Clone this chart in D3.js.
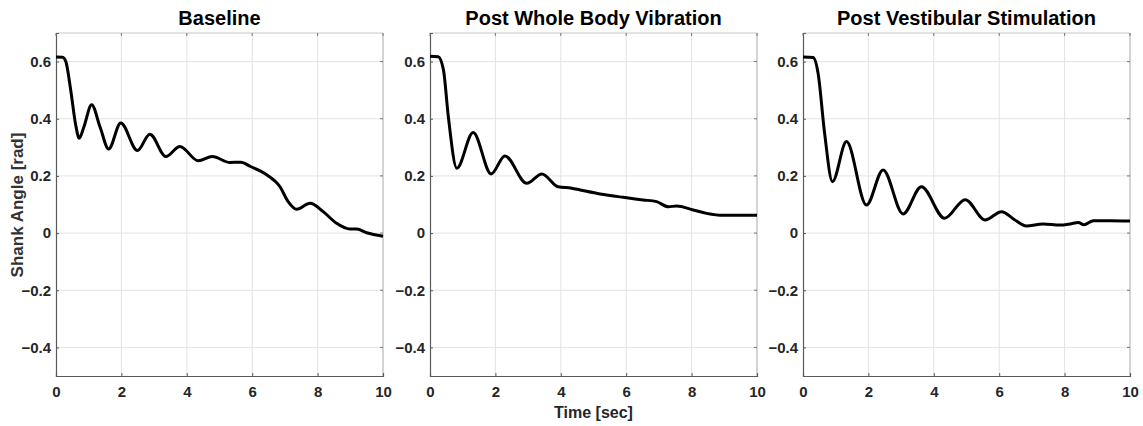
<!DOCTYPE html>
<html>
<head>
<meta charset="utf-8">
<script src="https://cdn.jsdelivr.net/npm/d3@7"></script>
<style>
  body { margin: 0; background: #fff; }
  svg text { font-family: "Liberation Sans", Arial, sans-serif; font-weight: bold; }
</style>
</head>
<body>
<div class="viz"></div>
<script>
const width = 1143;
const height = 426;

// panel titles
const titles = ["Baseline", "Post Whole Body Vibration", "Post Vestibular Stimulation"];

// ticks
const xTicks = [0, 2, 4, 6, 8, 10];
const yTicks = [0.6, 0.4, 0.2, 0, -0.2, -0.4];

// Baseline trace (time in sec, shank angle in rad)
const baselineT = [0, 0.2, 0.3, 0.45, 0.6, 0.71, 0.85, 1.09, 1.35, 1.61, 1.98, 2.49, 2.87, 3.36, 3.79, 4.35, 4.78, 5.32, 5.65, 5.95, 6.44, 6.85, 7.10, 7.36, 7.77, 8.17, 8.58, 8.99, 9.20, 9.50, 10];
const baselineV = [0.616, 0.615, 0.60, 0.50, 0.38, 0.332, 0.37, 0.449, 0.37, 0.294, 0.385, 0.289, 0.346, 0.268, 0.303, 0.253, 0.268, 0.247, 0.248, 0.233, 0.204, 0.162, 0.110, 0.083, 0.104, 0.075, 0.034, 0.014, 0.014, 0.001, -0.011];

// Post whole body vibration
const vibrationT = [0, 0.25, 0.41, 0.56, 0.82, 1.32, 1.87, 2.29, 2.96, 3.42, 3.92, 4.33, 4.59, 5.2, 5.91, 6.52, 6.93, 7.29, 7.54, 8.05, 8.46, 8.97, 10];
const vibrationV = [0.619, 0.617, 0.572, 0.408, 0.227, 0.352, 0.207, 0.270, 0.174, 0.207, 0.162, 0.157, 0.151, 0.137, 0.125, 0.116, 0.110, 0.092, 0.095, 0.081, 0.069, 0.062, 0.062];

// Post vestibular stimulation
const vestibularT = [0, 0.31, 0.46, 0.66, 0.90, 1.33, 1.94, 2.45, 3.06, 3.62, 4.33, 4.96, 5.57, 6.07, 6.48, 6.83, 7.34, 7.86, 8.17, 8.42, 8.59, 8.88, 9.39, 10];
const vestibularV = [0.616, 0.614, 0.560, 0.350, 0.180, 0.320, 0.098, 0.221, 0.067, 0.162, 0.052, 0.117, 0.046, 0.075, 0.046, 0.025, 0.032, 0.028, 0.032, 0.037, 0.029, 0.043, 0.043, 0.042];

const series = [
    [baselineT, baselineV],
    [vibrationT, vibrationV],
    [vestibularT, vestibularV]
];

// panel left edges
const panelLeft = [56, 430, 803];
const panelW = 327;
const plotTop = 33, plotBottom = 376;

const svg = d3.select(".viz")
    .append("svg")
    .attr("width", width)
    .attr("height", height);

const y = d3.scaleLinear().domain([-0.5, 0.7]).range([plotBottom, plotTop]);

series.forEach(([ts, vs], i) => {
    const x = d3.scaleLinear().domain([0, 10]).range([panelLeft[i], panelLeft[i] + panelW]);
    const g = svg.append("g");

    // grid
    g.selectAll(".gx").data(xTicks.slice(1, -1)).enter().append("line")
        .attr("x1", d => x(d)).attr("x2", d => x(d))
        .attr("y1", plotTop).attr("y2", plotBottom)
        .attr("stroke", "#e3e3e3").attr("stroke-width", 1);
    g.selectAll(".gy").data(yTicks).enter().append("line")
        .attr("x1", x(0)).attr("x2", x(10))
        .attr("y1", d => y(d)).attr("y2", d => y(d))
        .attr("stroke", "#e3e3e3").attr("stroke-width", 1);

    // box top/right (light)
    g.append("line").attr("x1", x(0)).attr("x2", x(10)).attr("y1", plotTop).attr("y2", plotTop)
        .attr("stroke", "#c8c8c8");
    g.append("line").attr("x1", x(10)).attr("x2", x(10)).attr("y1", plotTop).attr("y2", plotBottom)
        .attr("stroke", "#a8a8a8");

    // axes
    const xAxis = d3.axisBottom(x).tickValues(xTicks).tickSize(-3).tickPadding(10).tickFormat(d3.format("d"));
    const yAxis = d3.axisLeft(y).tickValues(yTicks).tickSize(-3).tickPadding(5)
        .tickFormat(d => d === 0 ? "0" : d3.format(".1f")(d));

    const ax = g.append("g").attr("transform", `translate(0,${plotBottom})`).call(xAxis);
    const ay = g.append("g").attr("transform", `translate(${x(0)},0)`).call(yAxis);
    [ax, ay].forEach(a => {
        a.select(".domain").attr("stroke", "#5a5a5a").attr("stroke-width", 1.2);
        a.selectAll(".tick line").attr("stroke", "#5a5a5a");
        a.selectAll("text").attr("fill", "#262626").style("font-size", "15px");
    });

    // top / right ticks
    g.selectAll(".tt").data(xTicks).enter().append("line")
        .attr("x1", d => x(d)).attr("x2", d => x(d))
        .attr("y1", plotTop).attr("y2", plotTop + 3).attr("stroke", "#777");
    g.selectAll(".tr").data(yTicks).enter().append("line")
        .attr("x1", x(10) - 3).attr("x2", x(10))
        .attr("y1", d => y(d)).attr("y2", d => y(d)).attr("stroke", "#777");

    // curve
    const pts = ts.map((t, k) => [t, vs[k]]);
    g.append("path")
        .datum(pts)
        .attr("fill", "none")
        .attr("stroke", "#000")
        .attr("stroke-width", 3)
        .attr("stroke-linejoin", "round")
        .attr("d", d3.line().x(d => x(d[0])).y(d => y(d[1])).curve(d3.curveMonotoneX));

    // title
    svg.append("text")
        .attr("x", x(5)).attr("y", 25)
        .attr("text-anchor", "middle")
        .style("font-size", "20px")
        .attr("fill", "#000")
        .text(titles[i]);
});

// axis labels
svg.append("text")
    .attr("transform", "translate(23,205) rotate(-90)")
    .attr("text-anchor", "middle")
    .style("font-size", "17px")
    .attr("fill", "#333")
    .text("Shank Angle [rad]");

svg.append("text")
    .attr("x", 593.5).attr("y", 418)
    .attr("text-anchor", "middle")
    .style("font-size", "16px")
    .attr("fill", "#262626")
    .text("Time [sec]");
</script>
</body>
</html>
